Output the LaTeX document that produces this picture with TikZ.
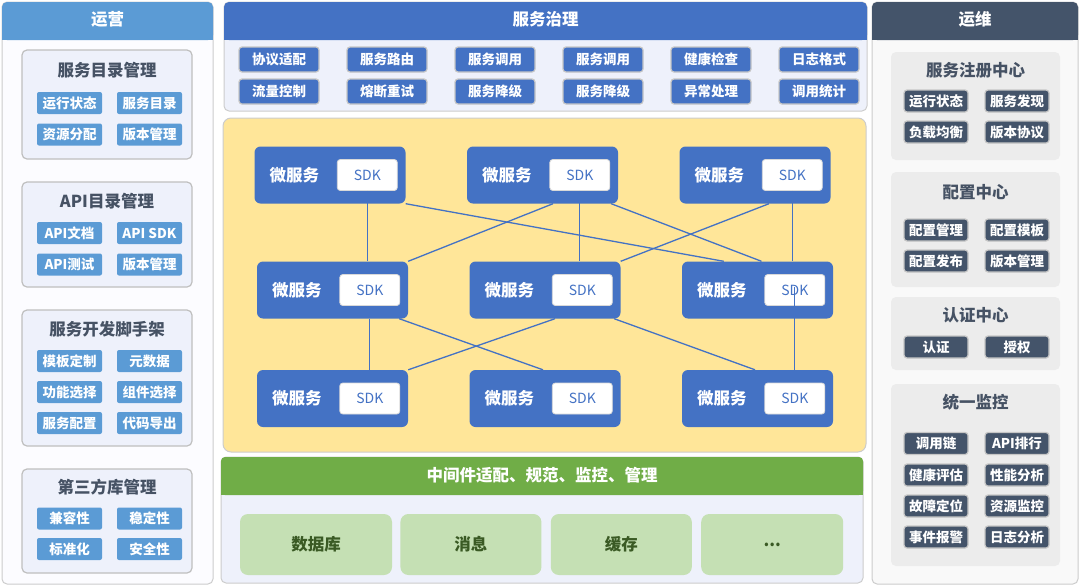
\documentclass[tikz,border=0pt]{standalone}
\usepackage{fontspec}
\setmainfont{Noto Sans CJK SC}
\usetikzlibrary{positioning}

\definecolor{opsblue}{HTML}{5B9BD5}
\definecolor{govblue}{HTML}{4472C4}
\definecolor{slate}{HTML}{44546A}
\definecolor{midgreen}{HTML}{70AD47}
\definecolor{palegreen}{HTML}{C5E0B4}
\definecolor{deepgreen}{HTML}{3A5A24}
\definecolor{lavender}{HTML}{EEF1FB}
\definecolor{sandy}{HTML}{FFE699}
\definecolor{titlegray}{HTML}{465264}

\newcommand{\headfont}{\fontsize{16.5}{18}\selectfont\bfseries}
\newcommand{\chipfont}{\fontsize{13.5}{15}\selectfont\bfseries}

\begin{document}
\begin{tikzpicture}[x=1pt, y=-1pt,
    panel/.style={draw=gray!40, line width=1pt, rounded corners=5pt},
    hdr/.style={text=white, font=\headfont},
    grp/.style={rounded corners=5pt},
    grptitle/.style={text=titlegray, font=\headfont},
    chipL/.style={fill=opsblue, text=white, font=\chipfont, rounded corners=2pt,
                  minimum width=65pt, minimum height=22pt, inner sep=0pt},
    chipM/.style={fill=govblue, draw=gray!45, line width=1.2pt, text=white, font=\chipfont,
                  rounded corners=3pt, minimum width=80pt, minimum height=25pt, inner sep=0pt},
    chipR/.style={fill=slate, draw=gray!45, line width=1.2pt, text=white, font=\chipfont,
                  rounded corners=3pt, minimum width=64pt, minimum height=22pt, inner sep=0pt},
    ms/.style={fill=govblue, rounded corners=6pt, minimum width=151pt, minimum height=57pt},
    sdk/.style={fill=white, draw=gray!30, line width=0.8pt, rounded corners=3pt, text=govblue,
                font=\fontsize{14}{15}\selectfont, minimum width=60pt, minimum height=31pt, inner sep=0pt},
    mslabel/.style={text=white, font=\headfont},
    mw/.style={fill=palegreen, rounded corners=8pt, text=deepgreen, font=\headfont,
               minimum height=61pt, inner sep=0pt},
    link/.style={draw=govblue, line width=1.3pt}]

\useasboundingbox (0,0) rectangle (1080,587);

% left column
\draw[panel, fill=blue!1] (2,2) rectangle (213,584);
\fill[opsblue, rounded corners=5pt] (2,2) rectangle (213,40);
\fill[opsblue] (2,20) rectangle (213,40);
\node[hdr] (ops) at (107.5,19) {运营};

\draw[grp, draw=gray!50, line width=1.2pt, fill=lavender] (22,50) rectangle (192,159);
\node[grptitle] (catalog) at (107,70) {服务目录管理};
\node[chipL] (c11) at (69.5,103) {运行状态};
\node[chipL] (c12) at (149.5,103) {服务目录};
\node[chipL] (c13) at (69.5,134.5) {资源分配};
\node[chipL] (c14) at (149.5,134.5) {版本管理};

\draw[grp, draw=gray!50, line width=1.2pt, fill=lavender] (22,182) rectangle (192,287);
\node[grptitle] (apicat) at (107,201) {API目录管理};
\node[chipL] (c21) at (69.5,233) {API文档};
\node[chipL] (c22) at (149.5,233) {API SDK};
\node[chipL] (c23) at (69.5,264.5) {API测试};
\node[chipL] (c24) at (149.5,264.5) {版本管理};

\draw[grp, draw=gray!50, line width=1.2pt, fill=lavender] (22,310) rectangle (192,446);
\node[grptitle] (scaffold) at (107,329) {服务开发脚手架};
\node[chipL] (c31) at (69.5,361) {模板定制};
\node[chipL] (c32) at (149.5,361) {元数据};
\node[chipL] (c33) at (69.5,392) {功能选择};
\node[chipL] (c34) at (149.5,392) {组件选择};
\node[chipL] (c35) at (69.5,423) {服务配置};
\node[chipL] (c36) at (149.5,423) {代码导出};

\draw[grp, draw=gray!50, line width=1.2pt, fill=lavender] (22,469) rectangle (192,573);
\node[grptitle] (thirdparty) at (107,487) {第三方库管理};
\node[chipL] (c41) at (69.5,518.5) {兼容性};
\node[chipL] (c42) at (149.5,518.5) {稳定性};
\node[chipL] (c43) at (69.5,549) {标准化};
\node[chipL] (c44) at (149.5,549) {安全性};

% governance
\draw[panel, fill=lavender] (224,2) rectangle (867,111);
\fill[govblue, rounded corners=5pt] (224,2) rectangle (867,40);
\fill[govblue] (224,20) rectangle (867,40);
\node[hdr] (gov) at (545.5,19) {服务治理};
\foreach \n/\x/\top/\bot in {1/279/协议适配/流量控制, 2/387/服务路由/熔断重试,
    3/495/服务调用/服务降级, 4/603/服务调用/服务降级, 5/711/健康检查/异常处理, 6/819/日志格式/调用统计} {
  \node[chipM] (g\n a) at (\x,59.5) {\top};
  \node[chipM] (g\n b) at (\x,91.5) {\bot};
}

% microservices
\draw[panel, fill=sandy, rounded corners=8pt] (223,118) rectangle (866,452);
\foreach \r/\y/\dx in {1/175/-2.5, 2/290/0, 3/398.5/0} {
  \foreach \c/\x in {1/332.5, 2/545, 3/757.5} {
    \node[ms] (m\r\c) at ({\x+(\dx)},\y) {};
    \node[sdk, anchor=east] (s\r\c) at ([xshift=-8pt]m\r\c.east) {SDK};
    \node[mslabel] at ([xshift=40pt]m\r\c.west) {微服务};
  }
}
\draw[link] (s11.south) -- (s11.south |- m21.north);
\draw[link] (m11.south east) -- ([xshift=42pt]m23.north west);
\draw[link] ([xshift=10.5pt]m12.south) -- (m21.north east);
\draw[link] (s12.south) -- (s12.south |- m22.north);
\draw[link] ([xshift=-7pt]m12.south east) -- ([xshift=4pt]m23.north);
\draw[link] ([xshift=14pt]m13.south) -- (m22.north east);
\draw[link] (s13.south) -- (s13.south |- m23.north);
\draw[link] (s21.south |- m21.south) -- (s21.south |- m31.north);
\draw[link] ([xshift=-9pt]m21.south east) -- ([xshift=-2pt]m32.north);
\draw[link] ([xshift=10pt]m22.south) -- (m31.north east);
\draw[link] ([xshift=-6.5pt]m22.south east) -- ([xshift=-2.5pt]m33.north);
\draw[link] ([yshift=3pt]s23.center) -- (s23.center |- m33.north);

% middleware
\draw[panel, fill=lavender] (221,457) rectangle (863,583);
\fill[midgreen, rounded corners=4pt] (221,457) rectangle (863,495);
\fill[midgreen] (221,475) rectangle (863,495);
\node[hdr] (mid) at (542,475) {中间件适配、规范、监控、管理};
\node[mw, minimum width=152pt] (db) at (316,544.5) {数据库};
\node[mw, minimum width=141pt, right=8pt of db] (mq) {消息};
\node[mw, minimum width=141pt, right=9pt of mq] (cache) {缓存};
\node[mw, minimum width=142pt, right=9pt of cache] (more) {...};

% right column
\draw[panel, fill=gray!5] (872,2) rectangle (1078,584);
\fill[slate, rounded corners=5pt] (872,2) rectangle (1078,40);
\fill[slate] (872,20) rectangle (1078,40);
\node[hdr] (opsr) at (975,19) {运维};

\fill[grp, gray!15] (891,52) rectangle (1060,160);
\node[grptitle] (registry) at (975.5,70) {服务注册中心};
\node[chipR] (r11) at (936,101) {运行状态};
\node[chipR] (r12) at (1017,101) {服务发现};
\node[chipR] (r13) at (936,132) {负载均衡};
\node[chipR] (r14) at (1017,132) {版本协议};

\fill[grp, gray!15] (891,172) rectangle (1060,287);
\node[grptitle] (config) at (975.5,192) {配置中心};
\node[chipR] (r21) at (936,230) {配置管理};
\node[chipR] (r22) at (1017,230) {配置模板};
\node[chipR] (r23) at (936,261) {配置发布};
\node[chipR] (r24) at (1017,261) {版本管理};

\fill[grp, gray!15] (891,297) rectangle (1060,370);
\node[grptitle] (auth) at (975.5,315) {认证中心};
\node[chipR] (r31) at (936,347) {认证};
\node[chipR] (r32) at (1017,347) {授权};

\fill[grp, gray!15] (891,384) rectangle (1060,566);
\node[grptitle] (monitor) at (975.5,402) {统一监控};
\node[chipR] (r41) at (936,443.5) {调用链};
\node[chipR] (r42) at (1017,443.5) {API排行};
\node[chipR] (r43) at (936,475) {健康评估};
\node[chipR] (r44) at (1017,475) {性能分析};
\node[chipR] (r45) at (936,506) {故障定位};
\node[chipR] (r46) at (1017,506) {资源监控};
\node[chipR] (r47) at (936,537) {事件报警};
\node[chipR] (r48) at (1017,537) {日志分析};
\end{tikzpicture}
\end{document}
